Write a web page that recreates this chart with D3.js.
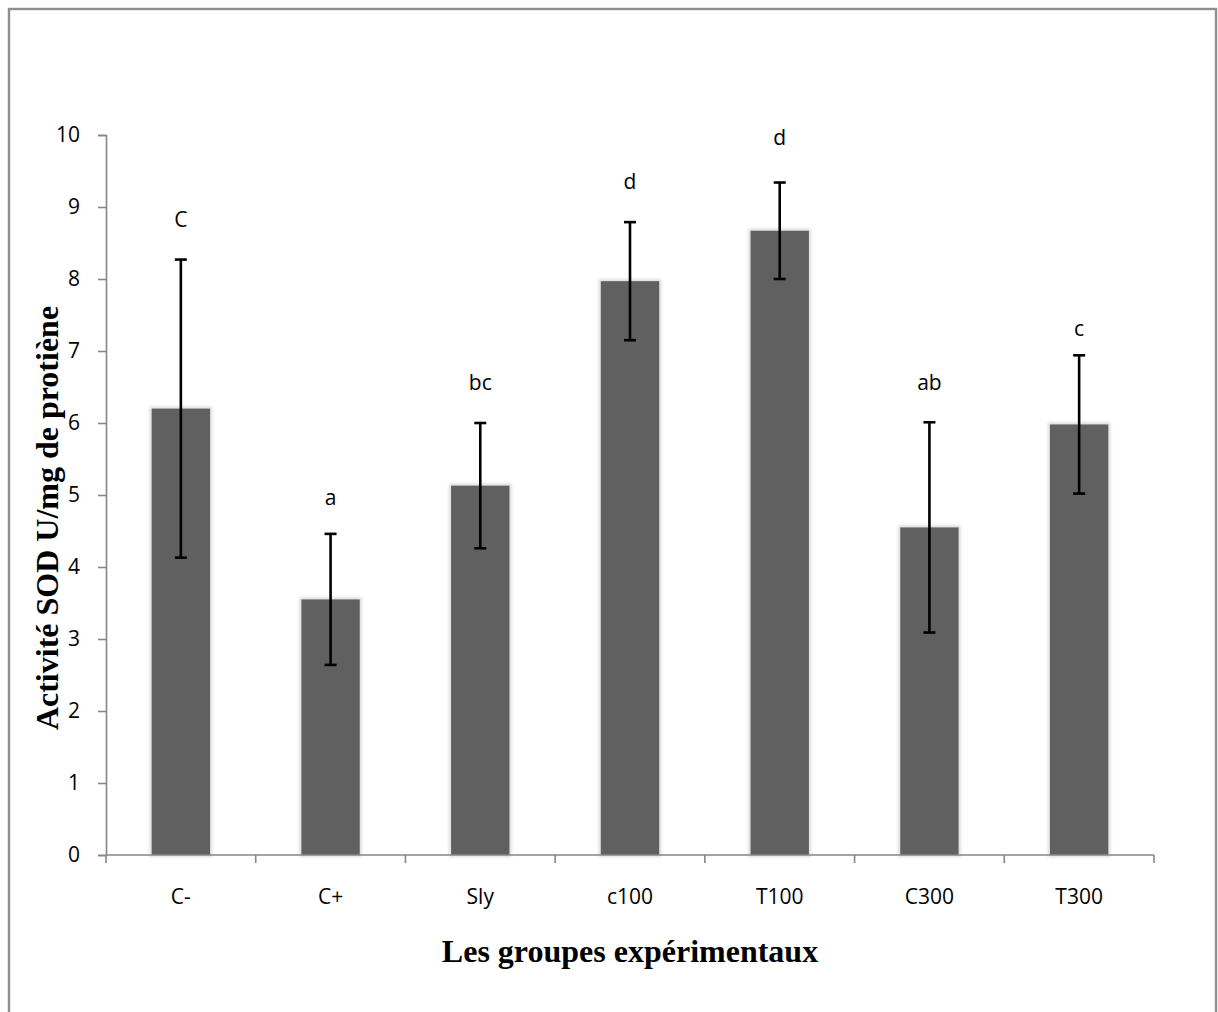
<!DOCTYPE html>
<html>
<head>
<meta charset="utf-8">
<script src="https://cdn.jsdelivr.net/npm/d3@7"></script>
<style>
  html, body { margin: 0; padding: 0; background: #fff; }
  svg { display: block; }
</style>
</head>
<body>
<svg id="chart" width="1218" height="1012"></svg>
<script>
// Groupes expérimentaux et activité SOD moyenne (U/mg de protéine)
const groups = ["C-", "C+", "Sly", "c100", "T100", "C300", "T300"];
const means = [6.2, 3.55, 5.13, 7.97, 8.67, 4.55, 5.98];
const errors = [2.07, 0.91, 0.87, 0.82, 0.67, 1.46, 0.96];
// Lettres de significativité et hauteur (en unités de l'axe) où elles sont posées
const letters = ["C", "a", "bc", "d", "d", "ab", "c"];
const letterLevels = [8.82, 4.97, 6.56, 9.35, 9.96, 6.56, 7.31];
const yTicks = [0, 1, 2, 3, 4, 5, 6, 7, 8, 9, 10];

const svg = d3.select("#chart");
const W = 1218, H = 1012;
const plot = { left: 106, right: 1154, top: 135, bottom: 855 };

// cadre extérieur
svg.append("rect")
  .attr("x", 9).attr("y", 9)
  .attr("width", 1207).attr("height", H + 20)
  .attr("fill", "none").attr("stroke", "#8f8f8f").attr("stroke-width", 2.4);

const defs = svg.append("defs");
const glow = defs.append("filter").attr("id", "barGlow")
  .attr("x", "-20%").attr("y", "-5%").attr("width", "140%").attr("height", "110%");
glow.append("feMorphology").attr("in", "SourceAlpha").attr("operator", "dilate")
  .attr("radius", 2).attr("result", "grown");
glow.append("feGaussianBlur").attr("in", "grown").attr("stdDeviation", 1.5).attr("result", "blur");
glow.append("feFlood").attr("flood-color", "#9a9a9a").attr("flood-opacity", 0.35);
glow.append("feComposite").attr("in2", "blur").attr("operator", "in").attr("result", "shadow");
const merge = glow.append("feMerge");
merge.append("feMergeNode").attr("in", "shadow");
merge.append("feMergeNode").attr("in", "SourceGraphic");

const x = d3.scaleBand().domain(groups)
  .range([plot.left, plot.right]).paddingInner(0.61).paddingOuter(0.305);
const xBand = d3.scaleBand().domain(groups).range([plot.left, plot.right]);
const y = d3.scaleLinear().domain([0, 10]).range([plot.bottom, plot.top]);

const tickFont = "'Open Sans', 'Noto Sans', sans-serif";
const titleFont = "'Liberation Serif', 'Times New Roman', serif";

// axe Y
const yAxis = svg.append("g")
  .attr("transform", `translate(${plot.left},0)`)
  .call(d3.axisLeft(y).tickValues(yTicks).tickSize(8).tickPadding(18).tickFormat(d3.format("d")));
yAxis.select(".domain").attr("stroke", "#868686").attr("stroke-width", 1.6);
yAxis.selectAll(".tick line").attr("stroke", "#868686").attr("stroke-width", 1.6);
yAxis.selectAll(".tick text")
  .attr("font-family", tickFont).attr("font-size", 21).attr("fill", "#000");

// barres
svg.append("g").selectAll("rect")
  .data(groups)
  .join("rect")
  .attr("x", d => x(d))
  .attr("width", x.bandwidth())
  .attr("y", (d, i) => y(means[i]))
  .attr("height", (d, i) => y(0) - y(means[i]))
  .attr("fill", "#606060")
  .attr("filter", "url(#barGlow)");

// axe X (graduations entre les groupes)
const xAxisG = svg.append("g").attr("transform", `translate(0,${plot.bottom})`);
xAxisG.append("line")
  .attr("x1", plot.left).attr("x2", plot.right)
  .attr("stroke", "#868686").attr("stroke-width", 1.6);
const boundaries = groups.map(g => xBand(g)).concat([plot.right]);
xAxisG.selectAll("line.tk").data(boundaries).join("line")
  .attr("class", "tk")
  .attr("x1", d => d).attr("x2", d => d)
  .attr("y1", 0).attr("y2", 8)
  .attr("stroke", "#868686").attr("stroke-width", 1.6);
xAxisG.selectAll("text").data(groups).join("text")
  .attr("x", d => xBand(d) + xBand.bandwidth() / 2)
  .attr("y", 49)
  .attr("text-anchor", "middle")
  .attr("font-family", tickFont).attr("font-size", 21).attr("fill", "#000")
  .text(d => d);

// barres d'erreur
const cap = 6;
const eb = svg.append("g").attr("stroke", "#000").attr("stroke-width", 2.6);
groups.forEach((g, i) => {
  const cx = x(g) + x.bandwidth() / 2;
  const hi = y(means[i] + errors[i]);
  const lo = y(means[i] - errors[i]);
  eb.append("line").attr("x1", cx).attr("x2", cx).attr("y1", hi).attr("y2", lo);
  eb.append("line").attr("x1", cx - cap).attr("x2", cx + cap).attr("y1", hi).attr("y2", hi);
  eb.append("line").attr("x1", cx - cap).attr("x2", cx + cap).attr("y1", lo).attr("y2", lo);
});

// lettres de significativité
svg.append("g").selectAll("text").data(groups).join("text")
  .attr("x", d => x(d) + x.bandwidth() / 2)
  .attr("y", (d, i) => y(letterLevels[i]))
  .attr("dy", "0.35em")
  .attr("text-anchor", "middle")
  .attr("font-family", tickFont).attr("font-size", 21).attr("fill", "#000")
  .text((d, i) => letters[i]);

// titres des axes
svg.append("text")
  .attr("transform", "translate(58,518) rotate(-90)")
  .attr("text-anchor", "middle")
  .attr("font-family", titleFont)
  .attr("font-weight", "bold").attr("font-size", 32)
  .text("Activité SOD U/mg de protiène");

svg.append("text")
  .attr("x", 630).attr("y", 962)
  .attr("text-anchor", "middle")
  .attr("font-family", titleFont)
  .attr("font-weight", "bold").attr("font-size", 32)
  .text("Les groupes expérimentaux");
</script>
</body>
</html>
